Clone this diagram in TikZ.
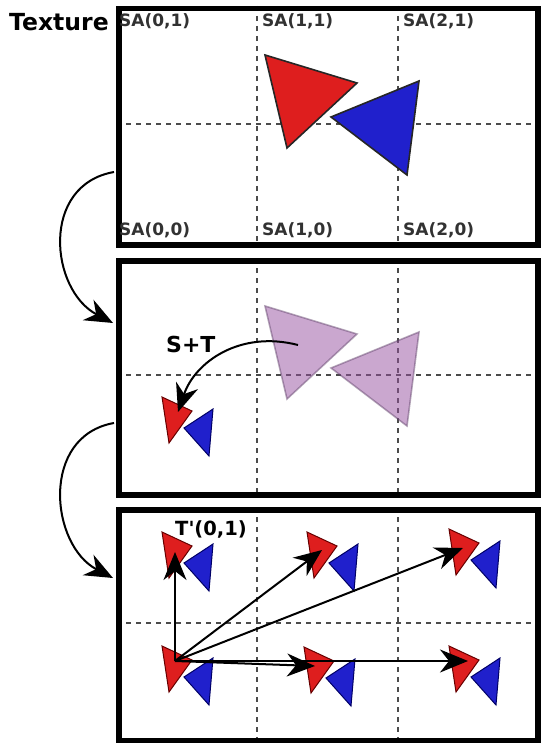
\documentclass[tikz,border=0pt]{standalone}
\usepackage{fontspec}
\setmainfont{DejaVu Sans}
\usetikzlibrary{arrows.meta}
\definecolor{tred}{RGB}{222,30,30}
\definecolor{tblue}{RGB}{32,32,204}
\definecolor{gridgray}{RGB}{75,75,75}
\definecolor{labgray}{RGB}{50,50,50}
\definecolor{purp}{RGB}{150,80,160}
\definecolor{purpline}{RGB}{90,60,100}
\newcommand\tpair[2]{%
  \begin{scope}[shift={(#1,#2)}]
    \draw[smallred] (0,0) -- (30,14) -- (7,46) -- cycle;
    \draw[smallblue] (22,31) -- (51,12) -- (47,59) -- cycle;
  \end{scope}}
\begin{document}
\begin{tikzpicture}[x=1pt,y=-1pt,
  panel/.style={draw=black, line width=5.5pt, rectangle, inner sep=0pt, minimum width=419pt, anchor=north west},
  gridline/.style={draw=gridgray, line width=2pt, dash pattern=on 5pt off 5pt},
  bigred/.style={fill=tred, draw=black!85, line width=1.6pt, line join=miter},
  bigblue/.style={fill=tblue, draw=black!85, line width=1.6pt, line join=miter},
  ghost/.style={fill=purp, fill opacity=0.5, draw=purpline, draw opacity=0.45, line width=1.6pt},
  smallred/.style={fill=tred, draw=red!40!black, line width=1pt},
  smallblue/.style={fill=tblue, draw=blue!40!black, line width=1pt},
  salab/.style={text=labgray, font=\bfseries\fontsize{17}{19}\selectfont, inner sep=0pt, anchor=base west},
  biglab/.style={text=black, font=\bfseries\fontsize{22}{24}\selectfont, inner sep=0pt, anchor=base west},
  conn/.style={draw=black, line width=2pt, -{Stealth[length=28pt,width=23pt,inset=9pt]}},
]
\useasboundingbox (0,0) rectangle (540,743);
% grid lines
\foreach \top/\bot in {6/242, 258/492, 507/738}{
  \draw[gridline] (257,\top) -- (257,\bot);
  \draw[gridline] (398,\top) -- (398,\bot);
  \draw[gridline] (116,{(\top+\bot)/2}) -- (535,{(\top+\bot)/2});
}
% top panel triangles
\draw[bigred] (265,55) -- (357,83) -- (287,148) -- cycle;
\draw[bigblue] (331,117) -- (419,81) -- (407,175) -- cycle;
% middle panel ghost triangles
\draw[ghost] (265,306) -- (357,334) -- (287,399) -- cycle;
\draw[ghost] (331,368) -- (419,332) -- (407,426) -- cycle;
% small pairs
\tpair{162}{397}
\tpair{162}{532}
\tpair{307}{532}
\tpair{449}{529}
\tpair{162}{646}
\tpair{304}{647}
\tpair{449}{646}
% panels
\node[panel, minimum height=236pt] (texture) at (116,6) {};
\node[panel, minimum height=234pt] (sample) at (116,258) {};
\node[panel, minimum height=231pt] (tiled) at (116,507) {};
% labels
\node[biglab, font=\bfseries\fontsize{23.5}{25}\selectfont] (tex) at (9,31) {Texture};
\node[salab] (sa01) at (119,27) {SA(0,1)};
\node[salab] (sa11) at (262,27) {SA(1,1)};
\node[salab] (sa21) at (403,27) {SA(2,1)};
\node[salab] (sa00) at (119,235) {SA(0,0)};
\node[salab] (sa10) at (262,235) {SA(1,0)};
\node[salab] (sa20) at (403,235) {SA(2,0)};
\node[biglab] (st) at (166,352) {S+T};
\node[biglab, font=\bfseries\fontsize{19.5}{21}\selectfont] (tp) at (175,535) {T\textquotesingle(0,1)};
% connector coordinates
\coordinate (c1s) at (114,172);
\coordinate (c1e) at (113,323);
\coordinate (c2s) at (114,423);
\coordinate (c2e) at (113,578);
\coordinate (sts) at (298,345);
\coordinate (ste) at (178,412);
\coordinate (o) at (175,661);
\coordinate (t01) at (175,552);
\coordinate (t11) at (322,550);
\coordinate (t21) at (463,548);
\coordinate (t10) at (315,666);
\coordinate (t20) at (468,661);
% curved connectors
\draw[conn] (c1s) .. controls (40,185) and (50,290) .. (c1e);
\draw[conn] (c2s) .. controls (40,436) and (50,545) .. (c2e);
\draw[conn] (sts) .. controls (240,330) and (195,362) .. (ste);
% translation arrows
\draw[conn] (o) -- (t01);
\draw[conn] (o) -- (t11);
\draw[conn] (o) -- (t21);
\draw[conn] (o) -- (t10);
\draw[conn] (o) -- (t20);
\end{tikzpicture}
\end{document}
